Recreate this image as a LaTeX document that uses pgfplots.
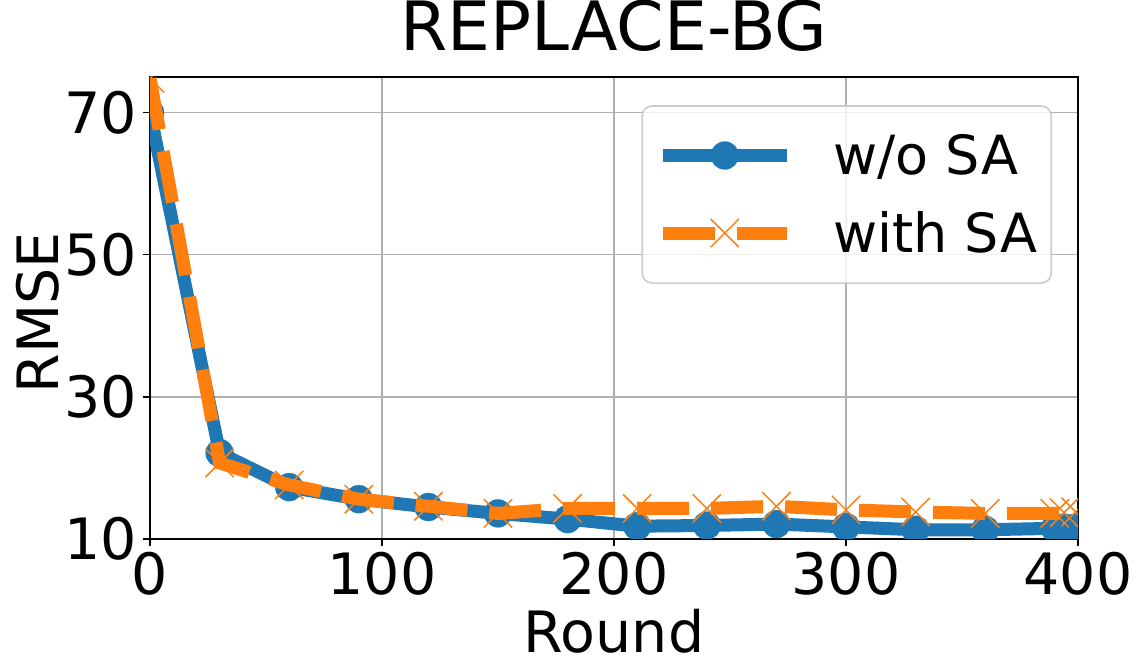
\documentclass[border=0pt]{standalone}
\usepackage{pgfplots}
\pgfplotsset{compat=1.18}
\usepackage{fontspec}
\setmainfont{DejaVu Sans}
\definecolor{mblue}{HTML}{1F77B4}
\definecolor{morange}{HTML}{FF7F0E}
\begin{document}
\begin{tikzpicture}
\begin{axis}[
  scale only axis,
  width=464pt, height=231pt,
  xmin=0, xmax=400, ymin=10, ymax=75,
  xtick={0,100,200,300,400},
  ytick={10,30,50,70},
  tick align=outside,
  tick pos=left,
  major tick length=3.5pt,
  major tick style={black, line width=0.8pt},
  grid=major,
  grid style={color=black!31, line width=0.8pt},
  axis line style={black, line width=0.9pt},
  /pgf/number format/assume math mode=true,
  ticklabel style={font=\fontsize{28.5}{34}\selectfont, inner sep=3pt},
  xlabel={Round}, ylabel={RMSE},
  label style={font=\fontsize{28.5}{34}\selectfont, inner sep=0pt},
  xlabel style={at={(axis description cs:0.5,-0.245)}, anchor=base},
  ylabel style={at={(axis description cs:-0.097,0.49)}, anchor=south, rotate=0},
  title={REPLACE-BG},
  title style={font=\fontsize{34}{40}\selectfont, at={(axis description cs:0.5,1.032)}, anchor=base, inner sep=0pt},
  clip marker paths=true,
  legend style={at={(0.972,0.939)}, anchor=north east, draw=black!20, line width=0.8pt, rounded corners=5pt, fill=white, fill opacity=0.8, draw opacity=1, text opacity=1, font=\fontsize{27}{32}\selectfont, row sep=17pt, column sep=20pt, inner xsep=7pt, inner ysep=14pt, nodes={inner sep=0pt}},
  legend cell align=left,
  legend image code/.code={%
    \draw[mark repeat=2,mark phase=2,opacity=1,fill opacity=1,draw opacity=1,#1] plot coordinates {(0pt,0pt) (31pt,0pt) (62pt,0pt)};},
]
\addplot[color=mblue, line width=6.5pt, mark=*, mark size=7pt, mark options={solid, line width=0.1pt, fill opacity=1}] coordinates {
(0,70.0) (30,22.1) (60,17.3) (90,15.6) (120,14.5) (150,13.6) (180,12.8) (210,11.8) (240,11.9) (270,12.1) (300,11.7) (330,11.3) (360,11.3) (390,11.5) (394,11.6) (399,11.6)
};
\addlegendentry{w/o SA}
\addplot[color=morange, line width=6.5pt, dash pattern=on 26pt off 11pt, mark=x, mark size=10pt, mark options={solid, line width=0.75pt}] coordinates {
(0,74.8) (30,20.7) (60,17.6) (90,15.6) (120,14.6) (150,13.6) (180,14.3) (210,14.3) (240,14.3) (270,14.6) (300,14.1) (330,13.8) (360,13.6) (390,13.6) (394,13.7) (399,13.8)
};
\addlegendentry{with SA}
\end{axis}
\pgfresetboundingbox
\path ([xshift=-75pt,yshift=-66.5pt]current axis.south west) rectangle ([xshift=31pt,yshift=38.5pt]current axis.north east);
\end{tikzpicture}
\end{document}
